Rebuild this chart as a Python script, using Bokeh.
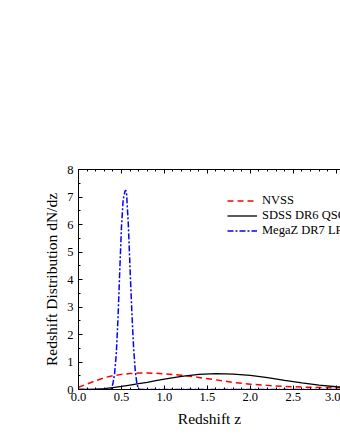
from bokeh.plotting import figure
from bokeh.models import (Range1d, LinearAxis, SingleIntervalTicker, Legend, LegendItem,
                          NumeralTickFormatter)
from bokeh.embed import file_html
from bokeh.resources import INLINE

# ---- data ----
z_grid = [0.0, 0.1, 0.2, 0.3, 0.4, 0.5, 0.6, 0.7, 0.8, 0.9, 1.0, 1.2, 1.4, 1.6, 1.8,
          2.0, 2.2, 2.4, 2.6, 2.8, 3.0, 3.05]
nvss = [0.08, 0.20, 0.32, 0.43, 0.50, 0.55, 0.58, 0.60, 0.60, 0.59, 0.57, 0.52, 0.44,
        0.35, 0.26, 0.19, 0.15, 0.11, 0.09, 0.07, 0.06, 0.06]
sdss = [0.0, 0.0, 0.01, 0.03, 0.07, 0.11, 0.16, 0.21, 0.26, 0.32, 0.38, 0.48, 0.55,
        0.58, 0.56, 0.51, 0.43, 0.33, 0.24, 0.16, 0.10, 0.09]
z_megaz = [0.0, 0.35, 0.38, 0.40, 0.42, 0.44, 0.46, 0.48, 0.50, 0.52, 0.54, 0.55, 0.56,
           0.58, 0.60, 0.62, 0.64, 0.66, 0.68, 0.70, 0.72, 1.0, 2.0, 3.05]
megaz = [0.0, 0.0, 0.02, 0.2, 0.57, 1.3, 2.6, 4.3, 5.9, 6.9, 7.2, 7.25, 7.1, 6.0,
         4.4, 2.9, 1.6, 0.7, 0.2, 0.02, 0.0, 0.0, 0.0, 0.0]

labels = ["NVSS", "SDSS DR6 QSO", "MegaZ DR7 LRG"]

FONT = "Times New Roman, Liberation Serif, serif"

p = figure(width=340, height=440, output_backend="svg", toolbar_location=None,
           x_range=Range1d(0, 3.05), y_range=Range1d(0, 8),
           min_border_left=78, min_border_right=0, min_border_top=169,
           min_border_bottom=51, x_axis_location=None, y_axis_location=None)
p.outline_line_color = None
p.grid.visible = False
p.background_fill_color = "white"
p.border_fill_color = "white"

def style(ax, labels_on=True):
    ax.axis_line_color = "black"
    ax.axis_line_width = 1
    ax.major_tick_in = 4
    ax.major_tick_out = 0
    ax.minor_tick_in = 2
    ax.minor_tick_out = 0
    ax.major_tick_line_color = "black"
    ax.minor_tick_line_color = "black"
    ax.major_label_text_font = FONT
    ax.major_label_text_font_size = "12.5px"
    ax.major_label_text_color = "black" if labels_on else None
    ax.axis_label_text_font = FONT
    ax.axis_label_text_font_size = "15.5px"
    ax.axis_label_text_font_style = "normal"
    ax.axis_label_text_color = "black"

xb = LinearAxis(ticker=SingleIntervalTicker(interval=0.5, num_minor_ticks=5),
                formatter=NumeralTickFormatter(format="0.0"), axis_label="Redshift z")
style(xb)
xb.major_label_standoff = 3
xb.axis_label_standoff = 6
p.add_layout(xb, "below")

xt = LinearAxis(ticker=SingleIntervalTicker(interval=0.5, num_minor_ticks=5))
style(xt, labels_on=False)
xt.major_label_text_font_size = "0px"
p.add_layout(xt, "above")

yl = LinearAxis(ticker=SingleIntervalTicker(interval=1, num_minor_ticks=2),
                axis_label="Redshift Distribution dN/dz")
style(yl)
yl.major_label_standoff = 5
yl.axis_label_standoff = 4
p.add_layout(yl, "left")

r1 = p.line(z_grid, nvss, line_color="#ff0000", line_width=1.5, line_dash="6 4")
r2 = p.line(z_grid, sdss, line_color="black", line_width=1.3)
r3 = p.line(z_megaz, megaz, line_color="#0000ff", line_width=1.5, line_dash="6 2 2 2")

leg = Legend(items=[LegendItem(label=labels[0], renderers=[r1]),
                    LegendItem(label=labels[1], renderers=[r2]),
                    LegendItem(label=labels[2], renderers=[r3])],
             location=(149, 151), orientation="vertical")
leg.border_line_color = None
leg.background_fill_alpha = 0
leg.margin = 0
leg.padding = 0
leg.spacing = 0
leg.label_height = 13
leg.glyph_height = 13
leg.glyph_width = 30
leg.label_standoff = 5
leg.label_text_font = FONT
leg.label_text_font_size = "12.5px"
leg.label_text_line_height = 1.0
leg.label_text_color = "black"
p.add_layout(leg, "center")

open("out.html", "w").write(file_html(p, INLINE))
